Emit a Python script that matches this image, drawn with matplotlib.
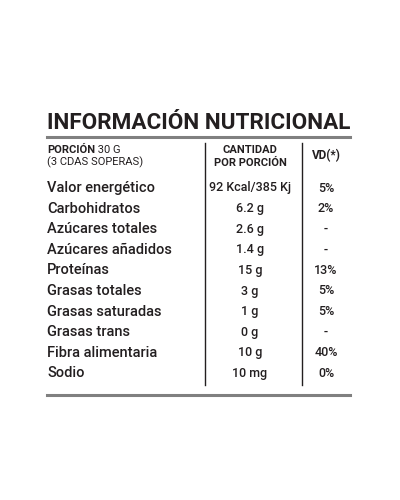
import matplotlib
matplotlib.use("Agg")
import matplotlib.pyplot as plt
from matplotlib import font_manager

nutrients = ["Valor energético", "Carbohidratos", "Azúcares totales", "Azúcares añadidos",
             "Proteínas", "Grasas totales", "Grasas saturadas", "Grasas trans",
             "Fibra alimentaria", "Sodio"]
amounts = ["92 Kcal/385 Kj", "6.2 g", "2.6 g", "1.4 g", "15 g", "3 g", "1 g", "0 g", "10 g", "10 mg"]
vd = ["5%", "2%", "-", "-", "13%", "5%", "5%", "-", "40%", "0%"]

names = {f.name for f in font_manager.fontManager.ttflist}
fam = ["Liberation Sans Narrow"] if "Liberation Sans Narrow" in names else ["Roboto"]
fam = fam + ["DejaVu Sans"]

fig = plt.figure(figsize=(4, 5), dpi=100)
ax = fig.add_axes([0, 0, 1, 1])
ax.set_xlim(0, 400); ax.set_ylim(500, 0); ax.axis("off")
c = "#231f20"

ax.text(47, 123, "INFORMACIÓN NUTRICIONAL", fontsize=16.2, weight="bold", family=fam,
        color=c, va="center", ha="left")
ax.plot([47, 350], [137, 137], color="#808080", lw=2.2)
ax.plot([47, 350], [395, 395], color="#808080", lw=2.2)
ax.plot([205, 205], [143, 385], color=c, lw=1)
ax.plot([302, 302], [143, 385], color=c, lw=1)

t = ax.text(47, 150, "PORCIÓN", fontsize=8, weight="bold", family=fam, color=c, va="center")
ax.annotate(" 30 G", xy=(1, 0.5), xycoords=t, fontsize=8, family=fam, color=c, va="center", ha="left")
ax.text(47, 162, "(3 CDAS SOPERAS)", fontsize=8, family=fam, color=c, va="center")
ax.text(250, 150, "CANTIDAD", fontsize=8, weight="bold", family=fam, color=c, va="center", ha="center")
ax.text(250, 163, "POR PORCIÓN", fontsize=8, weight="bold", family=fam, color=c, va="center", ha="center")
ax.text(326, 156, "VD(*)", fontsize=8.5, weight="bold", family=fam, color=c, va="center", ha="center")

for i, (n, a, v) in enumerate(zip(nutrients, amounts, vd)):
    y = 188 + i * 20.6
    ax.text(47, y, n, fontsize=10.5, weight="medium", family=fam, color=c, va="center", ha="left")
    ax.text(250, y, a, fontsize=9, weight="medium", family=fam, color=c, va="center", ha="center")
    ax.text(326, y, v, fontsize=9, weight="medium", family=fam, color=c, va="center", ha="center")

fig.savefig("out.png", dpi=100, facecolor="white")
